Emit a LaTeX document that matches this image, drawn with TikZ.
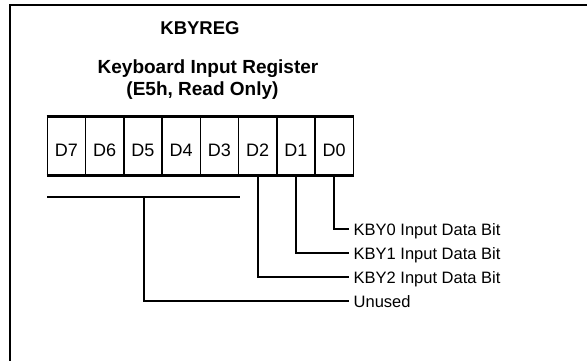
\documentclass[tikz,border=0pt]{standalone}
\usepackage{fontspec}
\setmainfont{Liberation Sans}
\begin{document}
\begin{tikzpicture}[x=1pt,y=-1pt,
  cell/.style={draw, line width=1.4pt, minimum width=38.25pt, minimum height=58pt, inner sep=0pt, text height=20pt, text depth=0pt, font=\fontsize{18}{20}\selectfont},
  lbl/.style={anchor=west, inner xsep=4.5pt, inner ysep=0pt, text height=12pt, text depth=0pt, font=\fontsize{16.5}{18}\selectfont},
  conn/.style={line width=2pt},
  ttl/.style={anchor=base, inner sep=0pt, font=\bfseries\fontsize{19}{21}\selectfont}]
\useasboundingbox (0,0) rectangle (587,361);
% frame
\draw[line width=2.2pt] (10,361) -- (10,5.3) -- (587,5.3);
% titles
\node[ttl, font=\bfseries\fontsize{18.5}{20}\selectfont] (t1) at (200,35) {KBYREG};
\node[ttl] (t2) at (208,74) {Keyboard Input Register};
\node[ttl] (t3) at (202.5,95.5) {(E5h, Read Only)};
% register cells
\node[cell] (d7) at (66.43,146) {D7};
\node[cell] (d6) at (104.68,146) {D6};
\node[cell] (d5) at (142.93,146) {D5};
\node[cell] (d4) at (181.18,146) {D4};
\node[cell] (d3) at (219.43,146) {D3};
\node[cell] (d2) at (257.68,146) {D2};
\node[cell] (d1) at (295.93,146) {D1};
\node[cell] (d0) at (334.18,146) {D0};
\draw[line width=2pt] (d7.north west) -- (d0.north east);
\draw[line width=3pt] (d7.south west) -- (d0.south east);
% labels
\node[lbl] (l0) at (349,229) {KBY0 Input Data Bit};
\node[lbl] (l1) at (349,253) {KBY1 Input Data Bit};
\node[lbl] (l2) at (349,277) {KBY2 Input Data Bit};
\node[lbl] (lu) at (349,301) {Unused};
% unused bar
\coordinate (ub1) at (47.3,197);
\coordinate (ub2) at (240,197);
\coordinate (ubm) at (143.6,197);
\draw[conn] (ub1) -- (ub2);
% connectors
\draw[conn] (d0.south) |- (l0.west);
\draw[conn] (d1.south) |- (l1.west);
\draw[conn] (d2.south) |- (l2.west);
\draw[conn] (ubm) |- (lu.west);
\end{tikzpicture}
\end{document}
